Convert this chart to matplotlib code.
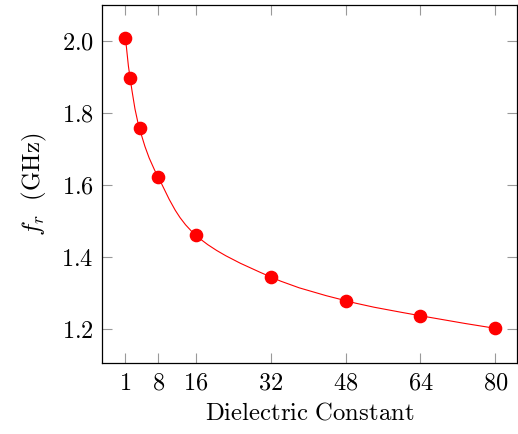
import numpy as np
import matplotlib
matplotlib.use("Agg")
import matplotlib.pyplot as plt
from matplotlib.path import Path
from matplotlib.patches import PathPatch
from matplotlib.ticker import FuncFormatter

plt.rcParams['mathtext.fontset'] = 'cm'
plt.rcParams['font.family'] = 'DejaVu Serif'

# data
eps_r = [1, 2, 4, 8, 16, 32, 48, 64, 80]
f_r = [2.008, 1.896, 1.757, 1.621, 1.460, 1.344, 1.278, 1.236, 1.201]
xticks = [1, 8, 16, 32, 48, 64, 80]
yticks = [1.2, 1.4, 1.6, 1.8, 2.0]

fig = plt.figure(figsize=(5.18, 4.34), dpi=100)
ax = fig.add_axes([0.197, 0.163, 0.801, 0.825])
ax.set_xlim(-4.0, 84.6)
ax.set_ylim(1.104, 2.099)

# smooth curve through the points (bezier, like pgfplots "smooth")
x = np.array(eps_r, dtype=float)
y = np.array(f_r, dtype=float)
# work in display-like units so the tangents are sensible
sx = 4.678
sy = 360.0
px, py = x * sx, y * sy
verts = [(x[0], y[0])]
codes = [Path.MOVETO]
t = 0.18
n = len(x)
for i in range(n - 1):
    if i == 0:
        d0 = (px[1] - px[0], py[1] - py[0])
    else:
        d0 = (px[i + 1] - px[i - 1], py[i + 1] - py[i - 1])
    if i + 1 == n - 1:
        d1 = (px[i + 1] - px[i], py[i + 1] - py[i])
    else:
        d1 = (px[i + 2] - px[i], py[i + 2] - py[i])
    c1 = ((px[i] + t * d0[0]) / sx, (py[i] + t * d0[1]) / sy)
    c2 = ((px[i + 1] - t * d1[0]) / sx, (py[i + 1] - t * d1[1]) / sy)
    verts += [c1, c2, (x[i + 1], y[i + 1])]
    codes += [Path.CURVE4, Path.CURVE4, Path.CURVE4]
ax.add_patch(PathPatch(Path(verts, codes), facecolor='none', edgecolor='red', lw=0.8, zorder=2))
ax.plot(eps_r, f_r, 'o', color='red', markersize=8.8, zorder=3)

ax.set_xticks(xticks)
ax.set_yticks(yticks)
ax.xaxis.set_major_formatter(FuncFormatter(lambda v, p: "$%d$" % v))
ax.yaxis.set_major_formatter(FuncFormatter(lambda v, p: "$%.1f$" % v))
ax.tick_params(direction='in', length=7.5, width=0.8, color='#999999',
               top=True, right=True, labelsize=17.5, pad=6)
for s in ax.spines.values():
    s.set_linewidth(0.9)

ax.set_xlabel(r"$\mathrm{Dielectric\ Constant}$", fontsize=17.8, labelpad=5)
ax.set_ylabel(r"$f_r\ \ \mathrm{(GHz)}$", fontsize=17.8, labelpad=9)

fig.savefig("out.png", dpi=100)
